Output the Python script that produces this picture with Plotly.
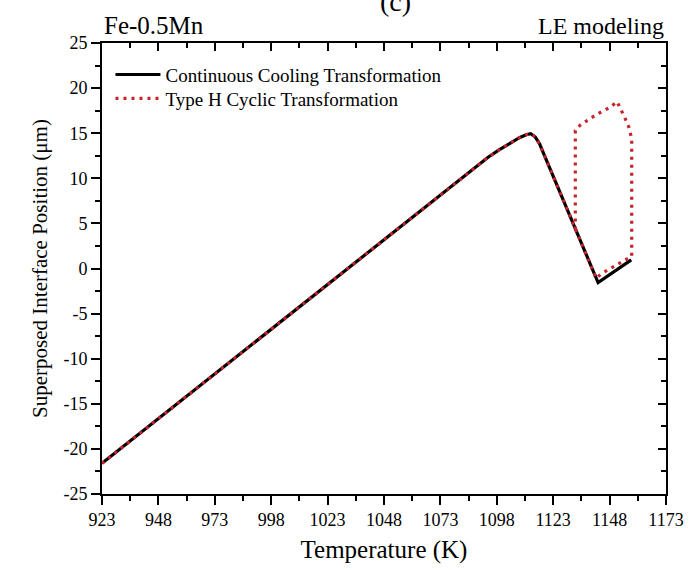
import plotly.graph_objects as go

# ---- data ----
cct_T = [923, 1088, 1094, 1099, 1104, 1108, 1111, 1113, 1115, 1117, 1119, 1142.9, 1157.6]
cct_pos = [-21.6, 11.2, 12.3, 13.15, 13.95, 14.5, 14.82, 14.95, 14.6, 13.8, 12.6, -1.57, 0.95]

cyc_T = [923, 1088, 1094, 1099, 1104, 1108, 1111, 1113, 1115, 1117, 1119, 1142.1,
         1144.2, 1150.5, 1157.8,
         1157.8, 1156.5, 1154.6, 1153.1, 1151.3, 1148.4, 1141.7, 1135.0, 1132.8, 1132.8]
cyc_pos = [-21.6, 11.2, 12.3, 13.15, 13.95, 14.5, 14.82, 14.95, 14.6, 13.8, 12.6, -1.1,
           -0.6, 0.35, 1.35,
           14.4, 15.7, 16.8, 17.6, 18.5, 17.9, 17.0, 15.9, 15.3, 4.3]

x_ticks = [923, 948, 973, 998, 1023, 1048, 1073, 1098, 1123, 1148, 1173]
y_ticks = [-25, -20, -15, -10, -5, 0, 5, 10, 15, 20, 25]
y_ticktext = ["-25", "-20", "-15", "-10", "-5", "0", "5", "10", "15", "20", "25"]

FONT = "Liberation Serif"

fig = go.Figure()
fig.add_trace(go.Scatter(x=cct_T, y=cct_pos, mode="lines",
                         name="Continuous Cooling Transformation", legend="legend",
                         line=dict(color="black", width=3.2)))
fig.add_trace(go.Scatter(x=cyc_T, y=cyc_pos, mode="lines",
                         name="Type H Cyclic Transformation", legend="legend2",
                         line=dict(color="#c8232b", width=3.2, dash="3px,5px")))
# dummy trace for the mirrored top/right axes
fig.add_trace(go.Scatter(x=[x_ticks[0]], y=[y_ticks[0]], xaxis="x2", yaxis="y2",
                         mode="markers", marker=dict(opacity=0), showlegend=False,
                         hoverinfo="skip"))

axis_common = dict(showgrid=False, zeroline=False, showline=True, linecolor="black",
                   linewidth=1.6, tickcolor="black", tickwidth=1.5)

legend_common = dict(xanchor="left", yanchor="top", bgcolor="rgba(0,0,0,0)",
                     font=dict(size=19, family=FONT), itemwidth=45)

fig.update_layout(
    width=699, height=570,
    margin=dict(l=102, r=33, t=43, b=76),
    paper_bgcolor="white", plot_bgcolor="white",
    font=dict(family=FONT, color="black", size=18),
    showlegend=True,
    legend=dict(x=0.015, y=0.972, **legend_common),
    legend2=dict(x=0.015, y=0.919, **legend_common),
    xaxis=dict(range=[923, 1173], tickvals=x_ticks, ticks="outside", ticklen=9,
               title=dict(text="Temperature (K)", font=dict(size=25), standoff=11),
               tickfont=dict(size=18),
               minor=dict(tickvals=[v + 12.5 for v in x_ticks[:-1]], ticks="outside",
                          ticklen=5, tickwidth=1.5, tickcolor="black", showgrid=False),
               **axis_common),
    yaxis=dict(range=[-25, 25], tickvals=y_ticks, ticktext=y_ticktext, ticks="outside",
               ticklen=9,
               title=dict(text="Superposed Interface Position (μm)", font=dict(size=21),
                          standoff=10),
               tickfont=dict(size=18),
               minor=dict(tickvals=[v + 2.5 for v in y_ticks[:-1]], ticks="outside",
                          ticklen=5, tickwidth=1.5, tickcolor="black", showgrid=False),
               **axis_common),
    xaxis2=dict(range=[923, 1173], overlaying="x", side="top", tickvals=x_ticks,
                ticks="inside", ticklen=8, showticklabels=False,
                minor=dict(tickvals=[v + 12.5 for v in x_ticks[:-1]], ticks="inside",
                           ticklen=5, tickwidth=1.5, tickcolor="black", showgrid=False),
                **axis_common),
    yaxis2=dict(range=[-25, 25], overlaying="y", side="right", tickvals=y_ticks,
                ticks="inside", ticklen=8, showticklabels=False,
                minor=dict(tickvals=[v + 2.5 for v in y_ticks[:-1]], ticks="inside",
                           ticklen=5, tickwidth=1.5, tickcolor="black", showgrid=False),
                **axis_common),
    annotations=[
        dict(text="Fe-0.5Mn", xref="paper", yref="paper", x=0.0, y=1.0, xanchor="left",
             yanchor="bottom", showarrow=False, font=dict(size=25, family=FONT), yshift=2),
        dict(text="LE modeling", xref="paper", yref="paper", x=1.0, y=1.0, xanchor="right",
             yanchor="bottom", showarrow=False, font=dict(size=24, family=FONT), yshift=2),
        dict(text="(c)", xref="paper", yref="paper", x=0.52, y=1.0, xanchor="center",
             yanchor="bottom", showarrow=False, font=dict(size=28, family=FONT), yshift=24),
    ],
)

fig.write_html("out.html")
